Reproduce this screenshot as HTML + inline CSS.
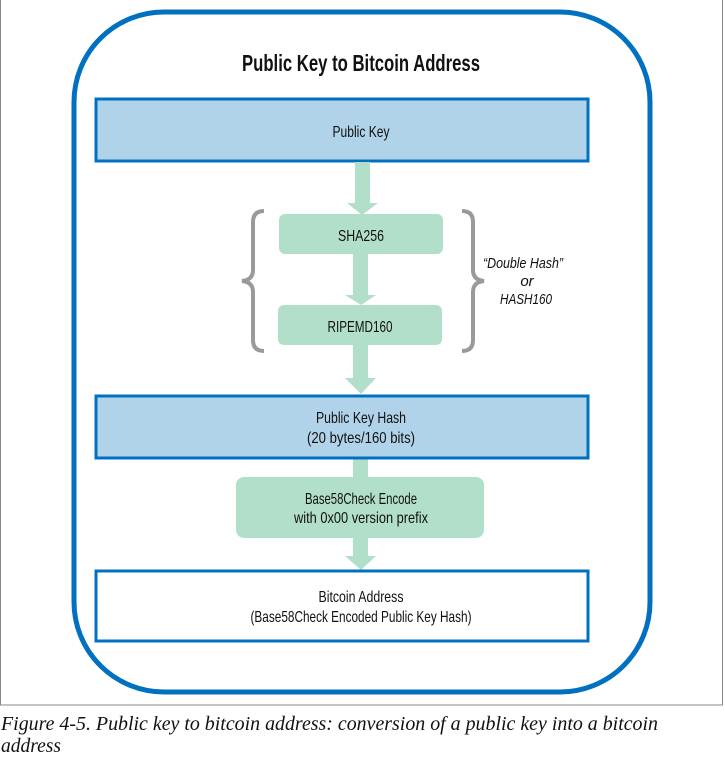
<!DOCTYPE html>
<html><head><style>
html,body{margin:0;padding:0;background:#fff;}
svg{display:block;}
</style></head><body>
<svg width="725" height="760" viewBox="0 0 725 760" xmlns="http://www.w3.org/2000/svg">
<rect x="0.5" y="-1" width="722" height="706" fill="#fff" stroke="#888" stroke-width="1"/>
<rect x="74" y="12" width="576" height="680" rx="90" ry="90" fill="#fff" stroke="#0070c0" stroke-width="5"/>
<g font-family="Liberation Sans, sans-serif" text-anchor="middle" fill="#111">
<text x="361" y="71" font-size="23" font-weight="bold" textLength="238" lengthAdjust="spacingAndGlyphs">Public Key to Bitcoin Address</text>
<rect x="96" y="99" width="492" height="62" fill="#b0d3ea" stroke="#0070c0" stroke-width="3"/>
<text x="361" y="137" font-size="16" textLength="57" lengthAdjust="spacingAndGlyphs">Public Key</text>
<g fill="#b2dfc9">
<rect x="355" y="162" width="15" height="42"/><polygon points="347,203 378,203 362,215"/>
<rect x="353" y="254" width="15" height="42"/><polygon points="345,295 376,295 361,305"/>
<rect x="353" y="345" width="15" height="35"/><polygon points="345,378 376,378 361,394"/>
<rect x="353" y="459" width="15" height="20"/>
<rect x="353" y="538" width="15" height="20"/><polygon points="345,556 376,556 361,570"/>
<rect x="279" y="214" width="164" height="40" rx="6"/>
<rect x="278" y="305" width="164" height="40" rx="6"/>
<rect x="236" y="477" width="248" height="61" rx="8"/>
</g>
<text x="361" y="241" font-size="16" textLength="46" lengthAdjust="spacingAndGlyphs">SHA256</text>
<text x="360" y="332" font-size="16" textLength="65" lengthAdjust="spacingAndGlyphs">RIPEMD160</text>
<path d="M264,211 Q253,211 253,222 L253,270 Q253,280 242,281 Q253,282 253,292 L253,340 Q253,351 264,351" fill="none" stroke="#9a9a9a" stroke-width="4"/>
<path d="M462,211 Q473,211 473,222 L473,270 Q473,280 484,281 Q473,282 473,292 L473,340 Q473,351 462,351" fill="none" stroke="#9a9a9a" stroke-width="4"/>
<g font-style="italic" font-size="15">
<text x="523" y="268" textLength="80" lengthAdjust="spacingAndGlyphs">“Double Hash”</text>
<text x="527" y="286">or</text>
<text x="526" y="304" textLength="52" lengthAdjust="spacingAndGlyphs">HASH160</text>
</g>
<rect x="96" y="396" width="492" height="62" fill="#b0d3ea" stroke="#0070c0" stroke-width="3"/>
<text x="361" y="423" font-size="16" textLength="90" lengthAdjust="spacingAndGlyphs">Public Key Hash</text>
<text x="361" y="443" font-size="16" textLength="108" lengthAdjust="spacingAndGlyphs">(20 bytes/160 bits)</text>
<text x="361" y="504" font-size="16" textLength="112" lengthAdjust="spacingAndGlyphs">Base58Check  Encode</text>
<text x="361" y="523" font-size="16" textLength="134" lengthAdjust="spacingAndGlyphs">with 0x00 version prefix</text>
<rect x="96" y="571" width="492" height="70" fill="#fff" stroke="#0070c0" stroke-width="3"/>
<text x="361" y="602" font-size="16" textLength="85" lengthAdjust="spacingAndGlyphs">Bitcoin Address</text>
<text x="361" y="622" font-size="16" textLength="221" lengthAdjust="spacingAndGlyphs">(Base58Check Encoded Public Key Hash)</text>
</g>
<g font-family="Liberation Serif, serif" font-style="italic" font-size="20" fill="#111">
<text x="1" y="730" textLength="657" lengthAdjust="spacingAndGlyphs">Figure 4-5. Public key to bitcoin address: conversion of a public key into a bitcoin</text>
<text x="1" y="752" textLength="60" lengthAdjust="spacingAndGlyphs">address</text>
</g>
</svg>
</body></html>
